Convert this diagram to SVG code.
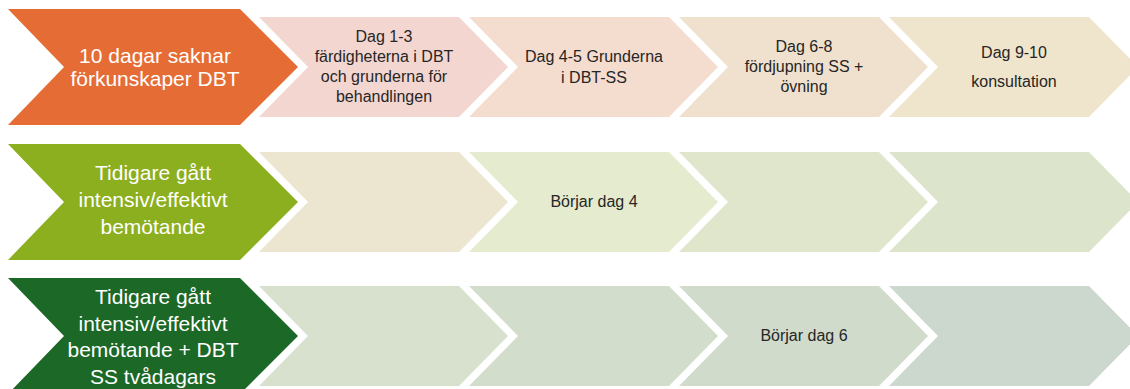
<svg xmlns="http://www.w3.org/2000/svg" xmlns:xlink="http://www.w3.org/1999/xlink" width="1130" height="389" viewBox="0 0 1130 389">
<style>
  text { font-family: "Liberation Sans", Arial, sans-serif; text-anchor: middle; }
  .big { font-size: 21px; fill: #ffffff; }
  .sm { font-size: 16px; fill: #262626; }
</style>
<defs>
  <path id="sc" d="M0,0 H200 L249,50 L200,100 H0 L49,50 Z"/>
  <path id="bc" d="M0,0 H232 L290,58 L232,116 H0 L56,58 Z"/>
</defs>
<rect width="1130" height="389" fill="#ffffff"/>

<!-- Row 1 -->
<g id="r1-head">
  <use xlink:href="#bc" href="#bc" x="8" y="9" fill="#E56D35"/>
  <text class="big" x="155" y="63">10 dagar saknar</text>
  <text class="big" x="155" y="86">förkunskaper DBT</text>
</g>
<g id="r1-c1">
  <use xlink:href="#sc" href="#sc" x="259" y="17" fill="#F3D6D0"/>
  <text class="sm" x="384" y="42">Dag 1-3</text>
  <text class="sm" x="384" y="62">färdigheterna i DBT</text>
  <text class="sm" x="384" y="82">och grunderna för</text>
  <text class="sm" x="384" y="102">behandlingen</text>
</g>
<g id="r1-c2">
  <use xlink:href="#sc" href="#sc" x="469" y="17" fill="#F4DCCF"/>
  <text class="sm" x="594" y="62">Dag 4-5 Grunderna</text>
  <text class="sm" x="594" y="83">i DBT-SS</text>
</g>
<g id="r1-c3">
  <use xlink:href="#sc" href="#sc" x="679" y="17" fill="#EFE1CD"/>
  <text class="sm" x="804" y="52">Dag 6-8</text>
  <text class="sm" x="804" y="72">fördjupning SS +</text>
  <text class="sm" x="804" y="92">övning</text>
</g>
<g id="r1-c4">
  <use xlink:href="#sc" href="#sc" x="889" y="17" fill="#EEE5CC"/>
  <text class="sm" x="1014" y="58">Dag 9-10</text>
  <text class="sm" x="1014" y="87">konsultation</text>
</g>

<!-- Row 2 -->
<g id="r2-head">
  <use xlink:href="#bc" href="#bc" x="8" y="144" fill="#8CAF20"/>
  <text class="big" x="153" y="180">Tidigare gått</text>
  <text class="big" x="153" y="207">intensiv/effektivt</text>
  <text class="big" x="153" y="234">bemötande</text>
</g>
<g id="r2-c1">
  <use xlink:href="#sc" href="#sc" x="259" y="152" fill="#ECE5CF"/>
</g>
<g id="r2-c2">
  <use xlink:href="#sc" href="#sc" x="469" y="152" fill="#E5EBCE"/>
  <text class="sm" x="594" y="207">Börjar dag 4</text>
</g>
<g id="r2-c3">
  <use xlink:href="#sc" href="#sc" x="679" y="152" fill="#E0E6CB"/>
</g>
<g id="r2-c4">
  <use xlink:href="#sc" href="#sc" x="889" y="152" fill="#DCE5CB"/>
</g>

<!-- Row 3 -->
<g id="r3-head">
  <use xlink:href="#bc" href="#bc" x="8" y="278" fill="#1B6827"/>
  <text class="big" x="153" y="304">Tidigare gått</text>
  <text class="big" x="153" y="331">intensiv/effektivt</text>
  <text class="big" x="153" y="357">bemötande + DBT</text>
  <text class="big" x="153" y="384">SS tvådagars</text>
</g>
<g id="r3-c1">
  <use xlink:href="#sc" href="#sc" x="259" y="286" fill="#D8E1CE"/>
</g>
<g id="r3-c2">
  <use xlink:href="#sc" href="#sc" x="469" y="286" fill="#D2DDCC"/>
</g>
<g id="r3-c3">
  <use xlink:href="#sc" href="#sc" x="679" y="286" fill="#D0DBCC"/>
  <text class="sm" x="804" y="341">Börjar dag 6</text>
</g>
<g id="r3-c4">
  <use xlink:href="#sc" href="#sc" x="889" y="286" fill="#CCD7CD"/>
</g>
</svg>
